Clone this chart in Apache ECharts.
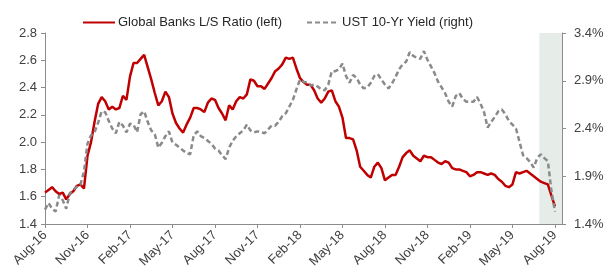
<!DOCTYPE html>
<html>
<head>
<meta charset="utf-8">
<script src="https://cdn.jsdelivr.net/npm/echarts@6/dist/echarts.min.js"></script>
<style>
    html, body { margin: 0; padding: 0; background: #fff; }
    #chart { width: 611px; height: 276px; }
</style>
</head>
<body>
<div id="chart"></div>
<script>
    // x positions are months since Aug-16, one point every quarter month (~weekly)
    var step = 0.25;
    var tickLabels = ['Aug-16', 'Nov-16', 'Feb-17', 'May-17', 'Aug-17', 'Nov-17', 'Feb-18',
        'May-18', 'Aug-18', 'Nov-18', 'Feb-19', 'May-19', 'Aug-19'];

    // Global Banks L/S Ratio (left axis)
    var lsRatio = [
        1.63, 1.65, 1.67, 1.64, 1.62, 1.63, 1.58, 1.62, 1.64, 1.68, 1.69, 1.66,
        1.90, 2.00, 2.15, 2.28, 2.33, 2.30, 2.24, 2.26, 2.24, 2.25, 2.34, 2.31,
        2.48, 2.58, 2.58, 2.61, 2.64, 2.55, 2.46, 2.36, 2.27, 2.30, 2.37, 2.33,
        2.21, 2.14, 2.10, 2.07, 2.13, 2.18, 2.25, 2.25, 2.24, 2.22, 2.29, 2.32,
        2.31, 2.25, 2.21, 2.16, 2.27, 2.24, 2.30, 2.33, 2.32, 2.35, 2.46, 2.45,
        2.41, 2.41, 2.39, 2.43, 2.47, 2.52, 2.54, 2.57, 2.62, 2.61, 2.62, 2.54,
        2.47, 2.44, 2.42, 2.42, 2.38, 2.32, 2.29, 2.32, 2.37, 2.38, 2.30, 2.26,
        2.18, 2.03, 2.03, 2.02, 1.94, 1.82, 1.79, 1.76, 1.74, 1.82, 1.85, 1.81,
        1.72, 1.74, 1.76, 1.76, 1.82, 1.89, 1.92, 1.94, 1.90, 1.88, 1.86, 1.90,
        1.89, 1.89, 1.87, 1.85, 1.84, 1.86, 1.85, 1.81, 1.80, 1.80, 1.79, 1.78,
        1.75, 1.76, 1.78, 1.78, 1.77, 1.76, 1.77, 1.76, 1.73, 1.71, 1.68, 1.67,
        1.69, 1.78, 1.77, 1.78, 1.79, 1.77, 1.75, 1.73, 1.71, 1.70, 1.69, 1.61,
        1.53
    ];

    // UST 10-Yr Yield, % (right axis)
    var ustYield = [
        1.55, 1.62, 1.56, 1.53, 1.70, 1.65, 1.56, 1.72, 1.76, 1.79, 1.81, 1.95,
        2.24, 2.33, 2.36, 2.46, 2.58, 2.57, 2.48, 2.40, 2.35, 2.47, 2.43, 2.36,
        2.45, 2.44, 2.36, 2.55, 2.58, 2.47, 2.38, 2.34, 2.20, 2.25, 2.32, 2.37,
        2.25, 2.23, 2.20, 2.17, 2.14, 2.13, 2.33, 2.37, 2.32, 2.30, 2.27, 2.24,
        2.19, 2.17, 2.12, 2.08, 2.20, 2.27, 2.32, 2.35, 2.38, 2.44, 2.38, 2.36,
        2.37, 2.36, 2.35, 2.39, 2.43, 2.43, 2.47, 2.53, 2.56, 2.63, 2.70, 2.81,
        2.91, 2.89, 2.88, 2.85, 2.86, 2.84, 2.81, 2.80, 2.86, 3.00, 3.00, 3.02,
        3.08, 2.95, 2.88, 2.96, 2.93, 2.86, 2.82, 2.83, 2.88, 2.95, 2.97, 2.91,
        2.86, 2.82, 2.87, 2.94, 3.02, 3.07, 3.10, 3.20, 3.16, 3.14, 3.13, 3.21,
        3.12, 3.05, 2.98, 2.89, 2.83, 2.77, 2.68, 2.63, 2.74, 2.77, 2.71, 2.68,
        2.68, 2.68, 2.73, 2.66, 2.57, 2.41, 2.47, 2.52, 2.58, 2.60, 2.55, 2.48,
        2.44, 2.40, 2.26, 2.12, 2.09, 2.05, 1.99, 2.09, 2.13, 2.09, 2.06, 1.75,
        1.53
    ];

    // shaded window at the end (months since Aug-16)
    var shadeStart = 34.9;
    var xMax = 36.5;

    var font = 'Arial, "Liberation Sans", sans-serif';
    var axisColor = '#8c8c8c';
    var labelColor = '#404040';

    function pairs(arr) {
        return arr.map(function (v, i) { return [i * step, v]; });
    }

    var chart = echarts.init(document.getElementById('chart'), null, { renderer: 'canvas' });
    chart.setOption({
        animation: false,
        backgroundColor: '#fff',
        textStyle: { fontFamily: font },
        legend: {
            data: ['Global Banks L/S Ratio (left)', 'UST 10-Yr Yield (right)'],
            left: 77,
            top: 11,
            itemWidth: 32,
            itemHeight: 14,
            itemGap: 24,
            itemStyle: { opacity: 0 },
            textStyle: { fontSize: 13, color: '#262626', fontFamily: font, padding: [0, 0, 0, -2] }
        },
        grid: { left: 45, right: 49, top: 33, bottom: 52 },
        xAxis: {
            type: 'value',
            min: 0,
            max: xMax,
            interval: 3,
            splitLine: { show: false },
            axisLine: { lineStyle: { color: axisColor, width: 1 } },
            axisTick: { length: 4, lineStyle: { color: axisColor } },
            axisLabel: {
                rotate: 45,
                margin: 9,
                fontSize: 13,
                color: labelColor,
                fontFamily: font,
                showMaxLabel: false,
                formatter: function (v) {
                    var k = v / 3;
                    if (Math.abs(k - Math.round(k)) > 1e-6) return '';
                    return tickLabels[Math.round(k)] || '';
                }
            }
        },
        yAxis: [{
            type: 'value',
            position: 'left',
            min: 1.4,
            max: 2.8,
            interval: 0.2,
            splitLine: { show: false },
            axisLine: { show: true, lineStyle: { color: axisColor, width: 1 } },
            axisTick: { show: true, length: 4, lineStyle: { color: axisColor } },
            axisLabel: {
                margin: 8,
                fontSize: 13,
                color: labelColor,
                fontFamily: font,
                formatter: function (v) { return v.toFixed(1); }
            }
        }, {
            type: 'value',
            position: 'right',
            min: 1.4,
            max: 3.4,
            interval: 0.5,
            splitLine: { show: false },
            axisLine: { show: true, lineStyle: { color: axisColor, width: 1 } },
            axisTick: { show: true, length: 4, lineStyle: { color: axisColor } },
            axisLabel: {
                margin: 12,
                fontSize: 13,
                color: labelColor,
                fontFamily: font,
                formatter: function (v) { return v.toFixed(1) + '%'; }
            }
        }],
        series: [{
            type: 'line',
            data: [],
            z: 1,
            silent: true,
            markArea: {
                silent: true,
                itemStyle: { color: '#e6ede9' },
                data: [[{ xAxis: shadeStart }, { xAxis: xMax }]]
            }
        }, {
            name: 'Global Banks L/S Ratio (left)',
            type: 'line',
            yAxisIndex: 0,
            data: pairs(lsRatio),
            symbol: 'none',
            z: 3,
            lineStyle: { color: '#c00000', width: 2.5 },
            itemStyle: { color: '#c00000' }
        }, {
            name: 'UST 10-Yr Yield (right)',
            type: 'line',
            yAxisIndex: 1,
            data: pairs(ustYield),
            symbol: 'none',
            z: 4,
            lineStyle: { color: '#8a8a8a', width: 2.5, type: [5, 3] },
            itemStyle: { color: '#8a8a8a' }
        }]
    });
</script>
</body>
</html>
